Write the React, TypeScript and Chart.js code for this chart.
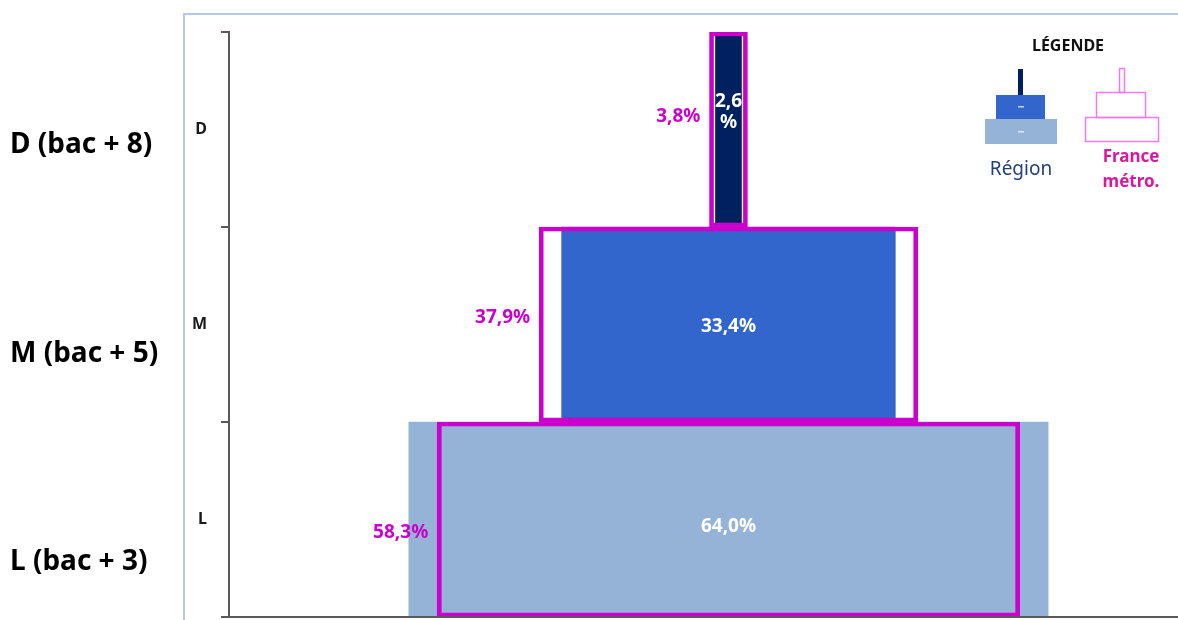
import React, { useEffect, useRef } from "react";
import { Chart, registerables } from "chart.js";

Chart.register(...registerables);

// ---- data ----
const categories = ["D", "M", "L"];
const levelLabels = ["D (bac + 8)", "M (bac + 5)", "L (bac + 3)"];
const regionValues = [2.6, 33.4, 64.0];
const franceValues = [3.8, 37.9, 58.3];
const legendTitle = "LÉGENDE";
const legendRegion = "Région";
const legendFrance = ["France", "métro."];

// ---- styles ----
const regionColors = ["#002060", "#3366cc", "#95b3d7"];
const franceColor = "#cc00cc";
const legendFranceColor = "#d7199d";
const axisColor = "#595959";
const frameColor = "#b4c7e7";
const FONT = "'Noto Sans', 'Open Sans', sans-serif";
// vertical text offsets (px from band centre)
const outerDy = [23.5, 37.5, 50.5];
const regionDy = [-22.5, 7, 12];
const franceDy = [-8, -1.5, 18.5];

const fmt = (v: number) => v.toFixed(1).replace(".", ",") + "%";

const overlayPlugin = {
  id: "overlay",
  beforeDraw(chart: any) {
    const ctx = chart.ctx;
    ctx.save();
    ctx.strokeStyle = frameColor;
    ctx.lineWidth = 2;
    ctx.beginPath();
    ctx.moveTo(184, 620);
    ctx.lineTo(184, 14);
    ctx.lineTo(1178, 14);
    ctx.stroke();
    ctx.restore();
  },
  afterDraw(chart: any) {
    const { ctx, chartArea } = chart;
    const x = chart.scales.x;
    const y = chart.scales.y;
    ctx.save();

    // bottom (category) axis line
    ctx.strokeStyle = axisColor;
    ctx.lineWidth = 2;
    ctx.beginPath();
    ctx.moveTo(chartArea.left, chartArea.bottom);
    ctx.lineTo(chartArea.right, chartArea.bottom);
    ctx.stroke();

    ctx.textBaseline = "alphabetic";

    // outer level labels
    ctx.font = `bold 28px ${FONT}`;
    ctx.fillStyle = "#000";
    ctx.textAlign = "left";
    categories.forEach((_c, i) => {
      const cy = y.getPixelForValue(i);
      ctx.fillText(levelLabels[i], 10, cy + outerDy[i]);
    });

    // region labels (inside bars)
    ctx.font = `bold 19px ${FONT}`;
    ctx.fillStyle = "#ffffff";
    ctx.textAlign = "center";
    regionValues.forEach((v, i) => {
      const cy = y.getPixelForValue(i);
      const cx = x.getPixelForValue(0);
      const w = x.getPixelForValue(v / 2) - x.getPixelForValue(-v / 2);
      const txt = fmt(v);
      if (ctx.measureText(txt).width > w) {
        ctx.fillText(txt.slice(0, -1), cx, cy + regionDy[i]);
        ctx.fillText("%", cx, cy + regionDy[i] + 21);
      } else {
        ctx.fillText(txt, cx, cy + regionDy[i]);
      }
    });

    // France labels (left of outline)
    ctx.fillStyle = franceColor;
    ctx.textAlign = "right";
    franceValues.forEach((v, i) => {
      const cy = y.getPixelForValue(i);
      const left = x.getPixelForValue(-v / 2);
      ctx.fillText(fmt(v), left - 9, cy + franceDy[i]);
    });

    // legend
    ctx.textAlign = "center";
    ctx.fillStyle = "#111";
    ctx.font = `bold 16px ${FONT}`;
    ctx.fillText(legendTitle, 1068, 51);

    ctx.fillStyle = regionColors[2];
    ctx.fillRect(985, 119, 72, 25);
    ctx.fillStyle = regionColors[1];
    ctx.fillRect(996, 95, 49, 24);
    ctx.fillStyle = regionColors[0];
    ctx.fillRect(1018, 69, 5, 26);
    ctx.fillStyle = "rgba(255,255,255,0.7)";
    ctx.fillRect(1018, 131, 6, 1.5);
    ctx.fillRect(1018, 106, 6, 1.5);

    ctx.strokeStyle = "#f07af0";
    ctx.lineWidth = 1.5;
    ctx.strokeRect(1085.5, 117.5, 73, 24);
    ctx.strokeRect(1096.5, 92.5, 49, 25);
    ctx.strokeRect(1119.5, 68.5, 5, 24);

    ctx.font = `19px ${FONT}`;
    ctx.fillStyle = "#23407e";
    ctx.fillText(legendRegion, 1021, 175);

    ctx.font = `bold 17px ${FONT}`;
    ctx.fillStyle = legendFranceColor;
    ctx.fillText(legendFrance[0], 1131, 162);
    ctx.fillText(legendFrance[1], 1131, 187);

    ctx.restore();
  },
};

export default function App() {
  const ref = useRef<HTMLCanvasElement | null>(null);

  useEffect(() => {
    if (!ref.current) return;
    Chart.defaults.font.family = FONT;
    const chart = new Chart(ref.current, {
      type: "bar",
      data: {
        labels: categories,
        datasets: [
          {
            label: "France métro.",
            data: franceValues.map((v) => [-v / 2, v / 2]) as any,
            backgroundColor: "rgba(0,0,0,0)",
            borderColor: franceColor,
            borderWidth: 4,
            borderSkipped: false,
            grouped: false,
            barPercentage: 1,
            categoryPercentage: 1,
            order: 0,
          } as any,
          {
            label: "Région",
            data: regionValues.map((v) => [-v / 2, v / 2]) as any,
            backgroundColor: regionColors,
            borderWidth: 0,
            grouped: false,
            barPercentage: 1,
            categoryPercentage: 1,
            order: 1,
          } as any,
        ],
      },
      options: {
        indexAxis: "y",
        responsive: false,
        animation: false,
        events: [],
        layout: { padding: { top: 32, left: 0, right: 0, bottom: 3 } },
        plugins: {
          legend: { display: false },
          tooltip: { enabled: false },
        },
        scales: {
          x: {
            type: "linear",
            display: false,
            min: -50,
            max: 45,
          },
          y: {
            type: "category",
            offset: true,
            grid: {
              offset: true,
              drawOnChartArea: false,
              color: axisColor,
              lineWidth: 2,
              tickLength: 8,
            },
            border: { color: axisColor, width: 2 },
            ticks: {
              color: "#1a1a1a",
              padding: 14,
              font: { family: FONT, weight: "bold", size: 16 },
            },
            afterFit: (s: any) => {
              s.width = 229;
              s.paddingTop = 0;
              s.paddingBottom = 0;
            },
          },
        },
      } as any,
      plugins: [overlayPlugin],
    });
    return () => chart.destroy();
  }, []);

  return (
    <div
      style={{
        position: "fixed",
        left: 0,
        top: 0,
        width: 1178,
        height: 620,
        background: "#fff",
      }}
    >
      <canvas ref={ref} width={1178} height={620} style={{ display: "block" }} />
    </div>
  );
}
